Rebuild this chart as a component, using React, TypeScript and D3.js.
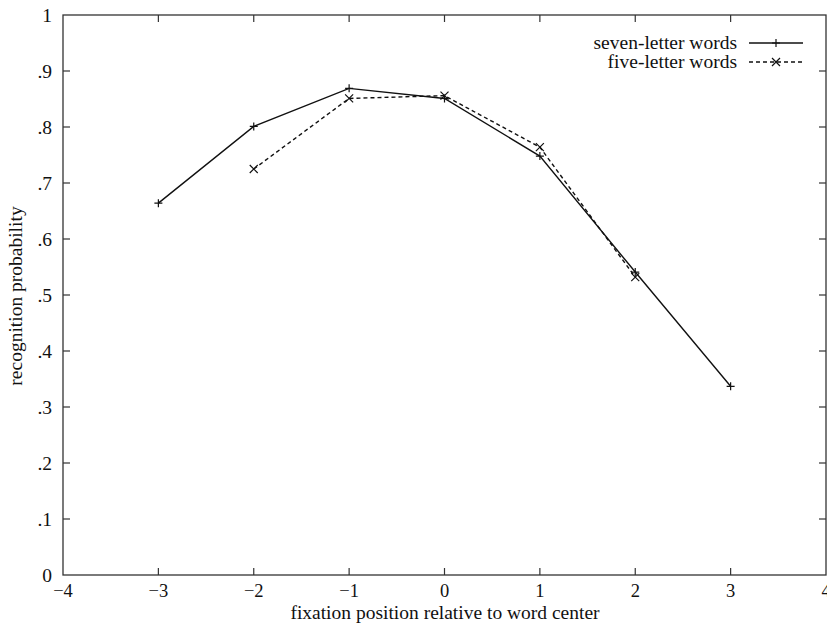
import React from "react";
import * as d3 from "d3";

const sevenX = [-3, -2, -1, 0, 1, 2, 3];
const sevenY = [0.664, 0.801, 0.869, 0.851, 0.748, 0.541, 0.337];
const fiveX = [-2, -1, 0, 1, 2];
const fiveY = [0.725, 0.851, 0.856, 0.764, 0.532];
const xTicks = [-4, -3, -2, -1, 0, 1, 2, 3, 4];
const yTicks = [0, 0.1, 0.2, 0.3, 0.4, 0.5, 0.6, 0.7, 0.8, 0.9, 1];

const width = 827;
const height = 625;
const left = 63;
const right = 826;
const top = 15;
const bottom = 575;
const font = "'Liberation Serif', 'DejaVu Serif', serif";
const fs = 19.5;
const tickFs = 18.5;

const yFormat = (v: number) => (v === 0 ? "0" : v === 1 ? "1" : d3.format(".1f")(v).replace(/^0/, ""));
const xFormat = (v: number) => (v < 0 ? "\u2212" + Math.abs(v) : String(v));

const Plus = ({ cx, cy }: { cx: number; cy: number }) => (
    <path d={`M${cx - 4},${cy}H${cx + 4}M${cx},${cy - 4}V${cy + 4}`} stroke="#111" strokeWidth={1.2} />
);
const Cross = ({ cx, cy }: { cx: number; cy: number }) => (
    <path d={`M${cx - 4},${cy - 4}L${cx + 4},${cy + 4}M${cx - 4},${cy + 4}L${cx + 4},${cy - 4}`} stroke="#111" strokeWidth={1.2} />
);

export default function App() {
    const x = d3.scaleLinear().domain([-4, 4]).range([left, right]);
    const y = d3.scaleLinear().domain([0, 1]).range([bottom, top]);

    const sevenPts = sevenX.map((v, i) => [x(v), y(sevenY[i])] as [number, number]);
    const fivePts = fiveX.map((v, i) => [x(v), y(fiveY[i])] as [number, number]);
    const path = d3.line();

    const tickLen = 7;

    return (
        <svg width={width} height={height} style={{ position: "absolute", left: 0, top: 0, background: "#fff" }}
            fontFamily={font}>
            {/* frame */}
            <rect x={left} y={top} width={right - left} height={bottom - top} fill="none" stroke="#333" strokeWidth={1.3} />

            {/* x ticks, bottom and top */}
            {xTicks.map(t => (
                <g key={'x' + t}>
                    {t > -4 && t < 4 && <>
                        <line x1={x(t)} x2={x(t)} y1={bottom} y2={bottom - tickLen} stroke="#333" strokeWidth={1.2} />
                        <line x1={x(t)} x2={x(t)} y1={top} y2={top + tickLen} stroke="#333" strokeWidth={1.2} />
                    </>}
                    <text x={x(t)} y={bottom + 22} textAnchor="middle" fontSize={tickFs} fill="#111">{xFormat(t)}</text>
                </g>
            ))}

            {/* y ticks, left and right */}
            {yTicks.map(t => (
                <g key={'y' + t}>
                    {t > 0 && t < 1 && <>
                        <line x1={left} x2={left + tickLen} y1={y(t)} y2={y(t)} stroke="#333" strokeWidth={1.2} />
                        <line x1={right} x2={right - tickLen} y1={y(t)} y2={y(t)} stroke="#333" strokeWidth={1.2} />
                    </>}
                    <text x={52} y={y(t) + 7} textAnchor="end" fontSize={fs} fill="#111">{yFormat(t)}</text>
                </g>
            ))}

            {/* axis titles */}
            <text x={445} y={619} textAnchor="middle" fontSize={fs} fill="#111">
                fixation position relative to word center
            </text>
            <text transform={`translate(22, 296) rotate(-90)`} textAnchor="middle" fontSize={fs} fill="#111">
                recognition probability
            </text>

            {/* series */}
            <path d={path(sevenPts) || ""} fill="none" stroke="#111" strokeWidth={1.4} />
            <path d={path(fivePts) || ""} fill="none" stroke="#111" strokeWidth={1.4} strokeDasharray="4,3" />
            {sevenPts.map((p, i) => <Plus key={'p' + i} cx={p[0]} cy={p[1]} />)}
            {fivePts.map((p, i) => <Cross key={'c' + i} cx={p[0]} cy={p[1]} />)}

            {/* legend */}
            <text x={737} y={49} textAnchor="end" fontSize={fs} fill="#111">seven-letter words</text>
            <line x1={749} x2={803} y1={43} y2={43} stroke="#111" strokeWidth={1.4} />
            <Plus cx={776} cy={43} />
            <text x={737} y={68} textAnchor="end" fontSize={fs} fill="#111">five-letter words</text>
            <line x1={749} x2={803} y1={62} y2={62} stroke="#111" strokeWidth={1.4} strokeDasharray="4,3" />
            <Cross cx={776} cy={62} />
        </svg>
    );
}
